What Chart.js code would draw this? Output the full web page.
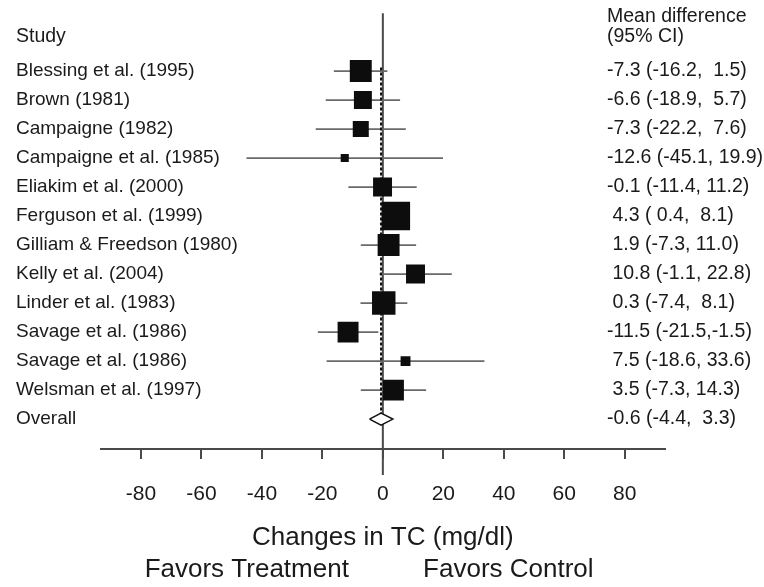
<!DOCTYPE html>
<html><head><meta charset="utf-8">
<script src="https://cdn.jsdelivr.net/npm/chart.js@4/dist/chart.umd.min.js"></script>
<style>html,body{margin:0;padding:0;background:#fff}#wrap{width:764px;height:587px;position:relative}</style>
</head><body><div id="wrap"><canvas id="c" width="764" height="587"></canvas></div>
<script>
// ---- data ----
const studies = ['Blessing et al. (1995)','Brown (1981)','Campaigne (1982)','Campaigne et al. (1985)','Eliakim et al. (2000)','Ferguson et al. (1999)','Gilliam & Freedson (1980)','Kelly et al. (2004)','Linder et al. (1983)','Savage et al. (1986)','Savage et al. (1986)','Welsman et al. (1997)'];
const meanDiff = [-7.3,-6.6,-7.3,-12.6,-0.1,4.3,1.9,10.8,0.3,-11.5,7.5,3.5];
const ciLow = [-16.2,-18.9,-22.2,-45.1,-11.4,0.4,-7.3,-1.1,-7.4,-21.5,-18.6,-7.3];
const ciHigh = [1.5,5.7,7.6,19.9,11.2,8.1,11.0,22.8,8.1,-1.5,33.6,14.3];
const weights = [10.3,6.9,5.5,1.4,7.7,17.4,10.3,7.7,11.8,9.4,2.1,9.4];
const overallLabel = 'Overall';
const overallMean = [-0.6];
const overallLow = [-4.4];
const overallHigh = [3.3];
const tickValues = [-80,-60,-40,-20,0,20,40,60,80];
const xTitle = 'Changes in TC (mg/dl)';
const favorsLabels = ['Favors Treatment','Favors Control'];
const headerStudy = 'Study';
const headerEffect = ['Mean difference','(95% CI)'];

// ---- helpers ----
const FONT = '"Liberation Sans", Arial, Helvetica, sans-serif';
const TXT = '#1a1a1a';
const LINE = '#4a4a4a';
function f1(v){ return v.toFixed(1); }
function fmtMean(v){ return (v < 0 ? '' : ' ') + f1(v); }
function fmtLo(v){ return (v < 0 ? '' : ' ') + f1(v); }
function fmtHi(v){ return v < 0 ? f1(v) : (v < 10 ? '  ' : ' ') + f1(v); }
function ciText(m, lo, hi){ return fmtMean(m) + ' (' + fmtLo(lo) + ',' + fmtHi(hi) + ')'; }

const nRows = studies.length;
const overallRow = nRows;

const ciData = [];
studies.forEach((s, i) => {
  ciData.push({x: ciLow[i], y: i}, {x: ciHigh[i], y: i}, {x: NaN, y: NaN});
});
const boxData = studies.map((s, i) => ({x: meanDiff[i], y: i}));
const boxRadius = weights.map(w => 6.83 * Math.sqrt(w) / (2 * Math.SQRT1_2));
const diamondH = 0.21;
const diamondData = [
  {x: overallLow[0], y: overallRow},
  {x: overallMean[0], y: overallRow - diamondH},
  {x: overallHigh[0], y: overallRow},
  {x: overallMean[0], y: overallRow + diamondH},
  {x: overallLow[0], y: overallRow}
];
const dottedData = [{x: overallMean[0], y: -0.12}, {x: overallMean[0], y: overallRow - diamondH}];

const textPlugin = {
  id: 'forestText',
  beforeDatasetsDraw(chart) {
    const {ctx, chartArea, scales: {x, y}} = chart;
    const px = x.getPixelForValue(0);
    ctx.save();
    ctx.strokeStyle = LINE;
    ctx.lineWidth = 2;
    ctx.beginPath();
    ctx.moveTo(px, y.getPixelForValue(-1.99));
    ctx.lineTo(px, chartArea.bottom + 26);
    ctx.stroke();
    ctx.restore();
  },
  afterDraw(chart) {
    const {ctx, scales: {x, y}} = chart;
    ctx.save();
    ctx.fillStyle = TXT;
    ctx.textBaseline = 'middle';
    ctx.textAlign = 'left';
    ctx.font = '19px ' + FONT;
    studies.forEach((s, i) => ctx.fillText(s, 16, y.getPixelForValue(i)));
    ctx.fillText(overallLabel, 16, y.getPixelForValue(overallRow));
    ctx.font = '19.5px ' + FONT;
    ctx.fillText(headerStudy, 16, y.getPixelForValue(-1.2));
    ctx.fillText(headerEffect[0], 607, y.getPixelForValue(-1.89));
    ctx.fillText(headerEffect[1], 607, y.getPixelForValue(-1.2));
    studies.forEach((s, i) => ctx.fillText(ciText(meanDiff[i], ciLow[i], ciHigh[i]), 607, y.getPixelForValue(i)));
    ctx.fillText(ciText(overallMean[0], overallLow[0], overallHigh[0]), 607, y.getPixelForValue(overallRow));
    ctx.font = '26px ' + FONT;
    ctx.textAlign = 'center';
    ctx.fillText(favorsLabels[0], x.getPixelForValue(-45), 570);
    ctx.fillText(favorsLabels[1], x.getPixelForValue(41.5), 570);
    ctx.restore();
  }
};

new Chart(document.getElementById('c'), {
  type: 'scatter',
  data: {
    datasets: [
      { type: 'line', data: diamondData, borderColor: '#111', borderWidth: 1.5, backgroundColor: '#fff', fill: 'shape', pointRadius: 0, tension: 0, order: 0 },
      { type: 'scatter', data: boxData, pointStyle: 'rect', pointRadius: boxRadius, backgroundColor: '#0d0d0d', borderWidth: 0, order: 1 },
      { type: 'line', data: dottedData, borderColor: '#111', borderWidth: 2, borderDash: [3, 2], pointRadius: 0, fill: false, order: 2 },
      { type: 'line', data: ciData, borderColor: '#6a6a6a', borderWidth: 1.8, pointRadius: 0, fill: false, spanGaps: false, order: 3 }
    ]
  },
  options: {
    responsive: false,
    animation: false,
    devicePixelRatio: 1,
    events: [],
    layout: { padding: { left: 100.7, right: 99, top: 4, bottom: 33.2 } },
    plugins: { legend: { display: false }, tooltip: { enabled: false } },
    scales: {
      x: {
        type: 'linear', min: -93.3, max: 93.3,
        afterBuildTicks: s => { s.ticks = tickValues.map(v => ({value: v})); },
        afterFit: s => { s.height = 104.8; },
        grid: { drawOnChartArea: false, drawTicks: true, tickLength: 10, color: LINE, lineWidth: 2 },
        border: { display: true, color: LINE, width: 2 },
        ticks: { padding: 23, color: TXT, font: { family: FONT, size: 21 }, maxRotation: 0, autoSkip: false },
        title: { display: true, text: xTitle, color: TXT, font: { family: FONT, size: 26 }, padding: { top: 14, bottom: 0 } }
      },
      y: { type: 'linear', display: false, reverse: true, min: -1.754, max: 13.03 }
    }
  },
  plugins: [textPlugin]
});
</script></body></html>
